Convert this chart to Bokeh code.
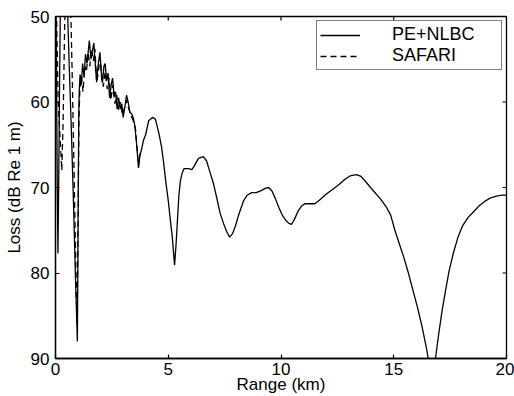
import math
from bokeh.plotting import figure
from bokeh.models import Range1d, FixedTicker, Legend, LegendItem
from bokeh.embed import file_html
from bokeh.resources import INLINE

# PE+NLBC (solid)
pe_range = [0.00, 0.04, 0.08, 0.11, 0.14, 0.18, 0.22, 0.30, 0.45, 0.52, 0.60, 0.70, 0.80, 0.90, 0.97,
            1.00, 1.03, 1.05, 1.09, 1.15, 1.20, 1.27, 1.33, 1.40, 1.50, 1.57, 1.64, 1.70, 1.76, 1.82,
            1.90, 1.97, 2.03, 2.08, 2.15, 2.20, 2.27, 2.33, 2.40, 2.47, 2.53, 2.60, 2.66, 2.73, 2.80,
            2.87, 2.94, 3.00, 3.08, 3.15, 3.22, 3.30, 3.38, 3.45, 3.52, 3.60, 3.68, 3.74, 3.82, 3.90,
            4.00, 4.13, 4.30, 4.43, 4.57, 4.70, 4.80, 4.90, 5.00, 5.10, 5.18, 5.28, 5.35, 5.40, 5.47,
            5.54, 5.62, 5.70, 5.90, 6.05, 6.15, 6.34, 6.56, 6.70, 6.85, 7.00, 7.15, 7.30, 7.45, 7.60,
            7.72, 7.85, 7.98, 8.10, 8.20, 8.35, 8.50, 8.70, 8.90, 9.10, 9.30, 9.45, 9.60, 9.75, 9.90,
            10.05, 10.20, 10.35, 10.47, 10.60, 10.75, 10.90, 11.05, 11.25, 11.50, 11.70, 12.00, 12.30,
            12.60, 12.85, 13.10, 13.35, 13.55, 13.75, 13.97, 14.20, 14.40, 14.65, 14.86, 15.05, 15.25,
            15.45, 15.65, 15.85, 16.05, 16.25, 16.45, 16.55, 16.70, 16.85, 17.00, 17.15, 17.30, 17.45,
            17.65, 17.85, 18.05, 18.30, 18.55, 18.80, 19.05, 19.30, 19.55, 19.80, 20.00]
pe_loss = [40.0, 55.0, 70.0, 77.7, 70.0, 58.0, 48.0, 40.0, 42.0, 48.0, 55.0, 63.0, 72.0, 82.0, 88.0,
           75.0, 62.0, 58.8, 56.8, 58.0, 55.5, 57.0, 54.4, 55.5, 52.8, 55.0, 54.0, 53.1, 55.5, 57.5,
           55.5, 54.2, 56.5, 57.8, 55.8, 55.5, 57.5, 56.6, 59.5, 58.0, 57.2, 59.3, 58.8, 60.8, 59.5,
           60.8, 60.2, 61.8, 60.5, 59.2, 60.0, 61.2, 61.4, 61.9, 62.8, 65.0, 67.7, 66.3, 65.5, 64.5,
           63.8, 62.2, 61.8, 62.0, 63.5, 65.2, 67.2, 69.5, 71.5, 74.0, 75.8, 79.1, 76.5, 74.2, 71.0,
           69.2, 68.3, 67.8, 67.8, 67.9, 67.5, 66.6, 66.4, 66.9, 68.2, 69.5, 71.2, 73.0, 74.2, 75.2,
           75.8, 75.4, 74.5, 73.4, 72.6, 71.5, 70.9, 70.6, 70.6, 70.4, 70.1, 70.0, 70.4, 71.3, 72.3,
           73.2, 73.8, 74.2, 74.3, 73.7, 72.8, 72.2, 71.9, 71.9, 71.9, 71.5, 70.8, 70.2,
           69.6, 69.0, 68.6, 68.5, 68.7, 69.3, 70.0, 70.7, 71.3, 72.2, 73.2, 75.0, 76.6,
           78.2, 80.0, 82.0, 84.0, 86.2, 88.8, 90.3, 93.0, 90.0, 87.0, 84.3, 82.0, 79.8,
           77.6, 75.8, 74.5, 73.5, 72.8, 72.1, 71.6, 71.2, 71.0, 70.9, 70.9]

# SAFARI (dashed)
safari_range = [0.00, 0.06, 0.12, 0.20, 0.28, 0.34, 0.40, 0.46, 0.55, 0.65, 0.75, 0.85, 0.93, 0.96,
                1.00, 1.04, 1.08, 1.15, 1.22, 1.30, 1.37, 1.45, 1.52, 1.60, 1.68, 1.75, 1.83, 1.90,
                1.98, 2.05, 2.12, 2.20, 2.30, 2.38, 2.45, 2.55, 2.63, 2.72, 2.80, 2.88, 2.96, 3.05,
                3.15, 3.25, 3.35, 3.45, 3.55, 3.62, 3.68, 3.75]
safari_loss = [40.0, 52.0, 60.0, 64.0, 68.0, 62.0, 52.0, 44.0, 40.0, 46.0, 58.0, 72.0, 83.0, 86.0,
               74.0, 62.0, 58.5, 57.0, 58.8, 55.8, 56.5, 54.2, 55.8, 53.8, 55.2, 53.8, 57.8, 56.4,
               54.8, 57.4, 58.2, 56.5, 58.5, 57.2, 59.8, 58.0, 60.2, 59.2, 61.0, 60.0, 61.5, 60.8,
               59.8, 60.8, 61.6, 62.2, 63.2, 65.5, 67.5, 66.0]

x_ticks = [0, 5, 10, 15, 20]
y_ticks = [50, 60, 70, 80, 90]
x_lim = (0, 20)
y_lim = (90, 50)   # reversed: loss increases downward

FONT = "Liberation Sans"

p = figure(width=514, height=396, output_backend="svg", toolbar_location=None,
           x_range=Range1d(*x_lim), y_range=Range1d(*y_lim),
           min_border_left=55, min_border_right=8, min_border_top=16, min_border_bottom=38,
           background_fill_color="white", border_fill_color="white")
p.grid.visible = False
p.outline_line_color = "black"
p.outline_line_width = 1.3

for ax in (p.xaxis[0], p.yaxis[0]):
    ax.major_tick_in = 4
    ax.major_tick_out = 0
    ax.minor_tick_in = 0
    ax.minor_tick_out = 0
    ax.axis_line_color = "black"
    ax.axis_line_width = 1.3
    ax.major_tick_line_width = 1.2
    ax.major_label_text_font = FONT
    ax.major_label_text_font_size = "17px"
    ax.major_label_text_color = "black"
    ax.axis_label_text_font = FONT
    ax.axis_label_text_font_size = "17px"
    ax.axis_label_text_font_style = "normal"
    ax.axis_label_text_color = "black"

p.xaxis[0].ticker = FixedTicker(ticks=x_ticks)
p.yaxis[0].ticker = FixedTicker(ticks=y_ticks)
p.xaxis[0].axis_label = "Range (km)"
p.yaxis[0].axis_label = "Loss (dB Re 1 m)"
p.xaxis[0].major_label_standoff = 4
p.xaxis[0].axis_label_standoff = -3
p.yaxis[0].major_label_standoff = 6
p.yaxis[0].axis_label_standoff = 4

# mirrored inward ticks on top and right edges (Matlab-style box), clipped by the frame
p.scatter(x_ticks, [y_lim[1]] * len(x_ticks), marker="dash", size=8, angle=math.pi / 2,
          line_color="black", line_width=1.2)
p.scatter([x_lim[1]] * len(y_ticks), y_ticks, marker="dash", size=8,
          line_color="black", line_width=1.2)

r1 = p.line(pe_range, pe_loss, line_color="black", line_width=1.3)
r2 = p.line(safari_range, safari_loss, line_color="black", line_width=1.3, line_dash="6 4")

legend = Legend(items=[LegendItem(label="PE+NLBC", renderers=[r1]),
                       LegendItem(label="SAFARI", renderers=[r2])],
                location="top_right", margin=4, padding=3, spacing=0,
                glyph_width=40, glyph_height=14, label_height=14, label_width=106,
                label_standoff=32,
                label_text_font=FONT, label_text_font_size="18px", label_text_color="black",
                border_line_color="black", border_line_width=1.3,
                background_fill_color="white", background_fill_alpha=1.0)
p.add_layout(legend)

open("out.html", "w").write(file_html(p, INLINE))
